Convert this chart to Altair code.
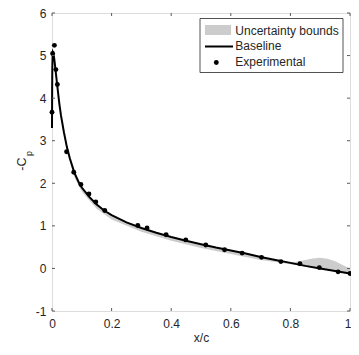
import altair as alt
import pandas as pd

# Baseline (solid line)
base_x = [0.0, 0.0005, 0.001, 0.002, 0.003, 0.005, 0.008, 0.012, 0.016, 0.02, 0.025, 0.03, 0.04,
          0.05, 0.06, 0.075, 0.09, 0.1, 0.125, 0.15, 0.175, 0.2, 0.25, 0.3, 0.35, 0.4, 0.45,
          0.5, 0.55, 0.6, 0.65, 0.7, 0.75, 0.8, 0.85, 0.9, 0.95, 1.0]
base_y = [3.3, 4.2, 4.7, 5.0, 5.08, 5.05, 4.9, 4.65, 4.4, 4.15, 3.85, 3.6, 3.2,
          2.85, 2.58, 2.25, 2.02, 1.9, 1.68, 1.5, 1.36, 1.25, 1.08, 0.95, 0.84, 0.74, 0.65,
          0.57, 0.49, 0.42, 0.35, 0.27, 0.2, 0.13, 0.06, 0.0, -0.06, -0.12]

# Uncertainty bounds (grey band)
band_x = [0.0, 0.005, 0.01, 0.02, 0.03, 0.05, 0.075, 0.1, 0.15, 0.2, 0.3, 0.4, 0.5, 0.6, 0.7,
          0.75, 0.8, 0.825, 0.85, 0.875, 0.9, 0.925, 0.95, 0.975, 1.0]
band_hi = [3.3, 5.05, 4.75, 4.15, 3.6, 2.85, 2.25, 1.9, 1.5, 1.25, 0.95, 0.74, 0.57, 0.42, 0.27,
           0.2, 0.14, 0.16, 0.2, 0.235, 0.25, 0.23, 0.17, 0.08, 0.0]
band_lo = [3.3, 5.0, 4.69, 4.08, 3.52, 2.76, 2.15, 1.8, 1.4, 1.15, 0.86, 0.65, 0.48, 0.34, 0.2,
           0.15, 0.1, 0.07, 0.04, 0.01, -0.02, -0.04, -0.08, -0.11, -0.14]

# Experimental points
exp_x = [0.0, 0.002, 0.008, 0.013, 0.018, 0.049, 0.073, 0.097, 0.124, 0.147, 0.177, 0.288,
         0.319, 0.383, 0.449, 0.516, 0.579, 0.638, 0.703, 0.768, 0.832, 0.897, 0.96, 1.0]
exp_y = [3.67, 5.05, 5.24, 4.67, 4.32, 2.74, 2.26, 1.97, 1.75, 1.56, 1.36, 1.01,
         0.95, 0.79, 0.67, 0.55, 0.44, 0.36, 0.26, 0.16, 0.11, 0.02, -0.08, -0.12]

x_ticks = [0, 0.2, 0.4, 0.6, 0.8, 1]
y_ticks = [-1, 0, 1, 2, 3, 4, 5, 6]

legend_labels = ["Uncertainty bounds", "Baseline", "Experimental"]

FONT = "Liberation Sans"
TXT = "#262626"
AX = "#5a5a5a"
W, H = 298, 298

base_df = pd.DataFrame({"x": base_x, "y": base_y})
band_df = pd.DataFrame({"x": band_x, "lo": band_lo, "hi": band_hi})
exp_df = pd.DataFrame({"x": exp_x, "y": exp_y})
xt_df = pd.DataFrame({"v": x_ticks})
yt_df = pd.DataFrame({"v": y_ticks})
one = pd.DataFrame({"a": [0]})

xscale = alt.Scale(domain=[0, 1], nice=False, zero=False)
yscale = alt.Scale(domain=[-1, 6], nice=False, zero=False)

xaxis = alt.Axis(values=x_ticks, format="~g", domain=False, ticks=False, grid=False,
                 labelFont=FONT, labelFontSize=12, labelColor=TXT, labelPadding=7,
                 labelAlign={"condition": {"test": "datum.value == 1", "value": "right"},
                             "value": "center"},
                 labelOffset={"condition": {"test": "datum.value == 1", "value": 1},
                              "value": 0},
                 title="x/c", titleFont=FONT, titleFontSize=12, titleColor=TXT,
                 titleFontWeight="normal", titlePadding=3)
yaxis = alt.Axis(values=y_ticks, labelExpr="'' + datum.value", domain=False, ticks=False,
                 grid=False, labelFont=FONT, labelFontSize=12, labelColor=TXT, labelPadding=6,
                 title=None)

band = alt.Chart(band_df).mark_area(color="#cccccc", opacity=1).encode(
    x=alt.X("x:Q", scale=xscale, axis=xaxis),
    y=alt.Y("lo:Q", scale=yscale, axis=yaxis),
    y2="hi:Q",
)
line = alt.Chart(base_df).mark_line(color="black", strokeWidth=2).encode(
    x=alt.X("x:Q", scale=xscale, axis=xaxis),
    y=alt.Y("y:Q", scale=yscale, axis=yaxis),
)
pts = alt.Chart(exp_df).mark_circle(color="black", size=24, opacity=1).encode(
    x=alt.X("x:Q", scale=xscale, axis=xaxis),
    y=alt.Y("y:Q", scale=yscale, axis=yaxis),
)

# inward ticks on all four sides
tb = alt.Chart(xt_df).mark_rule(color=AX, strokeWidth=1).encode(
    x=alt.X("v:Q", scale=xscale, axis=xaxis), y=alt.value(H), y2=alt.value(H - 3))
tt = alt.Chart(xt_df).mark_rule(color=AX, strokeWidth=1).encode(
    x=alt.X("v:Q", scale=xscale, axis=xaxis), y=alt.value(0), y2=alt.value(3))
tl = alt.Chart(yt_df).mark_rule(color=AX, strokeWidth=1).encode(
    y=alt.Y("v:Q", scale=yscale, axis=yaxis), x=alt.value(0), x2=alt.value(3))
tr = alt.Chart(yt_df).mark_rule(color=AX, strokeWidth=1).encode(
    y=alt.Y("v:Q", scale=yscale, axis=yaxis), x=alt.value(W), x2=alt.value(W - 3))

# y-axis title  -C_p
yt1 = alt.Chart(one).mark_text(text="-C", angle=270, align="right", baseline="alphabetic",
                               font=FONT, fontSize=12.5, color=TXT).encode(
    x=alt.value(-26), y=alt.value(144.5))
yt2 = alt.Chart(one).mark_text(text="p", angle=270, align="left", baseline="alphabetic",
                               font=FONT, fontSize=9, color=TXT).encode(
    x=alt.value(-20.5), y=alt.value(143))

# legend
lg_box = alt.Chart(one).mark_rect(fill="white", stroke=TXT, strokeWidth=0.8).encode(
    x=alt.value(148), x2=alt.value(291), y=alt.value(5.5), y2=alt.value(59.5))
lg_patch = alt.Chart(one).mark_rect(fill="#cccccc").encode(
    x=alt.value(153), x2=alt.value(179), y=alt.value(12), y2=alt.value(22))
lg_line = alt.Chart(one).mark_rule(color="black", strokeWidth=2).encode(
    x=alt.value(153), x2=alt.value(181), y=alt.value(33.5))
lg_dot = alt.Chart(one).mark_circle(color="black", size=24, opacity=1).encode(
    x=alt.value(164.3), y=alt.value(49.5))
lg_t = [
    alt.Chart(one).mark_text(text=lab, align="left", baseline="alphabetic", font=FONT,
                             fontSize=12, color=TXT).encode(x=alt.value(183.3), y=alt.value(yy))
    for lab, yy in zip(legend_labels, [21.5, 37.3, 53.3])
]

chart = alt.layer(band, line, pts, tb, tt, tl, tr, yt1, yt2,
                  lg_box, lg_patch, lg_line, lg_dot, *lg_t).properties(
    width=W, height=H,
    autosize=alt.AutoSizeParams(type="none"),
    padding={"left": 44, "top": 5, "right": 1, "bottom": 34},
).configure_view(stroke=AX, strokeWidth=1).configure(background="white")

chart.save("out.html", embed_options={"renderer": "svg", "actions": False})
